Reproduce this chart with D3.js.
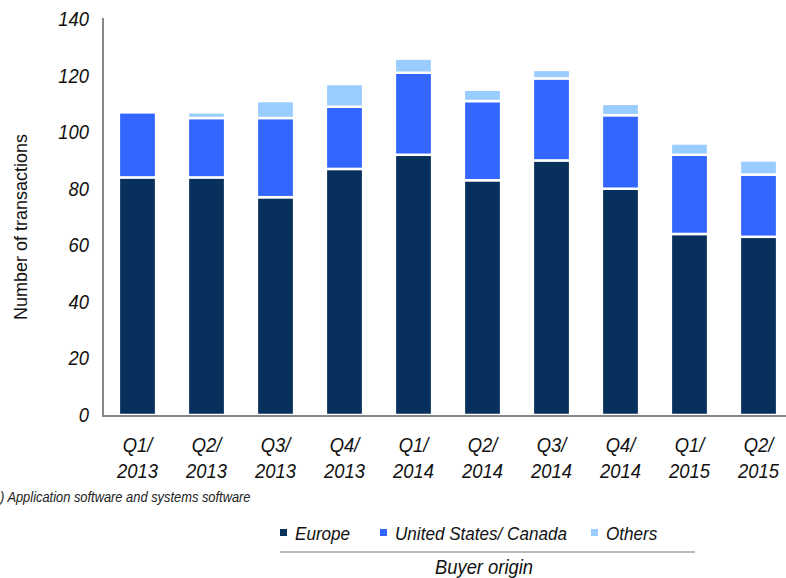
<!DOCTYPE html>
<html>
<head>
<meta charset="utf-8">
<script src="https://cdn.jsdelivr.net/npm/d3@7"></script>
<style>
body { margin: 0; background: #fff; }
text { font-family: "Liberation Sans Narrow", "Arial Narrow", "Liberation Sans", sans-serif; }
</style>
</head>
<body>
<script>
// quarters and stacked values (number of transactions)
var quarters = ['Q1/2013', 'Q2/2013', 'Q3/2013', 'Q4/2013', 'Q1/2014', 'Q2/2014', 'Q3/2014', 'Q4/2014', 'Q1/2015', 'Q2/2015'];
var europe = [84, 84, 77, 87, 92, 83, 90, 80, 64, 63];
var usCanada = [23, 21, 28, 22, 29, 28, 29, 26, 28, 22];
var others = [0, 2, 6, 8, 5, 4, 3, 4, 4, 5];
var seriesNames = ['Europe', 'United States/ Canada', 'Others'];
var colors = ['#08305c', '#3366ff', '#99ccff'];
var yTicks = [0, 20, 40, 60, 80, 100, 120, 140];

var W = 786, H = 578;
var svg = d3.select('body').append('svg')
    .attr('width', W)
    .attr('height', H);

var x = d3.scaleBand().domain(quarters).range([103, 793]).paddingInner(0.46).paddingOuter(0.23);
var y = d3.scaleLinear().domain([0, 140]).range([415, 19]);

var table = quarters.map(function(q, i) {
    return { q: q, Europe: europe[i], 'United States/ Canada': usCanada[i], Others: others[i] };
});
var stacked = d3.stack().keys(seriesNames)(table);

svg.selectAll('g.layer')
    .data(stacked)
    .enter()
  .append('g')
    .attr('class', 'layer')
    .attr('fill', (d, i) => colors[i])
  .selectAll('rect')
    .data(d => d.filter(p => p[1] - p[0] > 0))
    .enter()
  .append('rect')
    .attr('x', d => x(d.data.q))
    .attr('width', x.bandwidth())
    .attr('y', d => y(d[1]))
    .attr('height', d => y(d[0]) - y(d[1]))
    .attr('stroke', '#fff')
    .attr('stroke-width', 2.5);

// axes lines
svg.append('line')
    .attr('x1', 103).attr('x2', 103)
    .attr('y1', 18).attr('y2', 416)
    .attr('stroke', '#888').attr('stroke-width', 2);
svg.append('line')
    .attr('x1', 102).attr('x2', 786)
    .attr('y1', 416).attr('y2', 416)
    .attr('stroke', '#888').attr('stroke-width', 2);

// y tick labels
svg.selectAll('text.ytick')
    .data(yTicks)
    .enter()
  .append('text')
    .attr('class', 'ytick')
    .attr('transform', d => 'translate(89,' + (y(d) + 7) + ') scale(0.92,1)')
    .attr('text-anchor', 'end')
    .attr('font-size', 20)
    .attr('font-style', 'italic')
    .attr('fill', '#111')
    .text(d => d);

// x labels, two lines
var xl = svg.selectAll('g.xtick')
    .data(quarters)
    .enter()
  .append('g')
    .attr('class', 'xtick')
    .attr('transform', d => 'translate(' + (x(d) + x.bandwidth() / 2) + ',0) scale(0.92,1)')
  .append('text')
    .attr('text-anchor', 'middle')
    .attr('font-size', 20)
    .attr('font-style', 'italic')
    .attr('fill', '#111');
xl.append('tspan')
    .attr('x', 0)
    .attr('y', 452)
    .text(d => d.split('/')[0] + '/');
xl.append('tspan')
    .attr('x', 0)
    .attr('y', 478)
    .text(d => d.split('/')[1]);

// y title
svg.append('text')
    .attr('transform', 'translate(27,227) rotate(-90)')
    .attr('text-anchor', 'middle')
    .attr('font-size', 18)
    .attr('fill', '#111')
    .text('Number of transactions');

// footnote
svg.append('text')
    .attr('transform', 'translate(0,502) scale(0.92,1)')
    .attr('font-size', 14)
    .attr('font-style', 'italic')
    .attr('fill', '#222')
    .text(') Application software and systems software');

// legend
var legendX = [280, 380, 591];
var lg = svg.selectAll('g.legend')
    .data(seriesNames)
    .enter()
  .append('g')
    .attr('class', 'legend')
    .attr('transform', (d, i) => 'translate(' + legendX[i] + ',533)');
lg.append('rect')
    .attr('x', 0).attr('y', -4)
    .attr('width', 7).attr('height', 7)
    .attr('fill', (d, i) => colors[i]);
lg.append('text')
    .attr('transform', 'translate(15,7) scale(0.9,1)')
    .attr('font-size', 19)
    .attr('font-style', 'italic')
    .attr('fill', '#111')
    .text(d => d);

svg.append('line')
    .attr('x1', 280).attr('x2', 695)
    .attr('y1', 552).attr('y2', 552)
    .attr('stroke', '#bbb').attr('stroke-width', 2);

svg.append('text')
    .attr('transform', 'translate(484,574) scale(0.92,1)')
    .attr('text-anchor', 'middle')
    .attr('font-size', 20)
    .attr('font-style', 'italic')
    .attr('fill', '#111')
    .text('Buyer origin');
</script>
</body>
</html>
